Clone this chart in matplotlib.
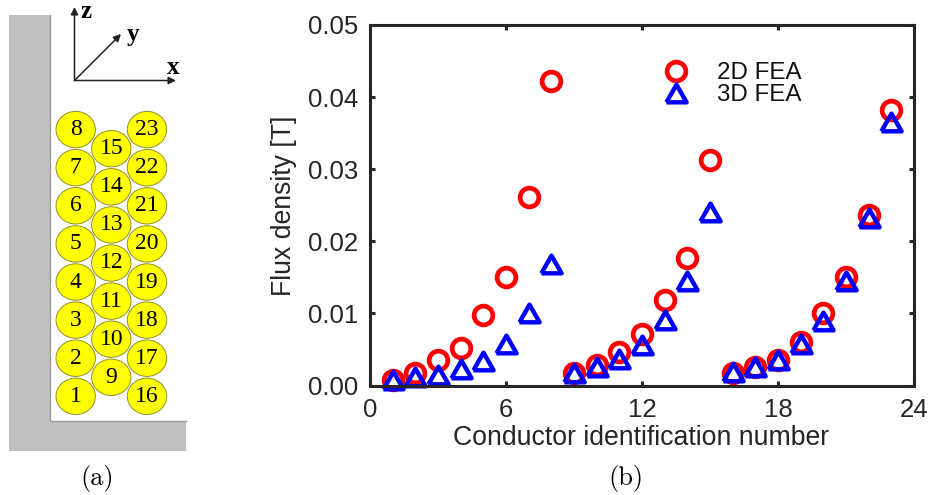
import matplotlib
matplotlib.use('Agg')
import matplotlib.pyplot as plt
from matplotlib.markers import MarkerStyle
from matplotlib.patches import Ellipse, Polygon

W, H = 932, 495
conductors = list(range(1, 24))
flux_2d = [.0008, .0018, .0035, .0052, .0098, .0150, .0262, .0422,
           .0018, .0028, .0047, .0072, .0119, .0177, .0313,
           .0018, .0025, .0035, .0060, .0100, .0150, .0237, .0382]
flux_3d = [.0008, .0012, .0014, .0023, .0034, .0057, .0101, .0168,
           .0017, .0025, .0037, .0056, .0091, .0145, .0240,
           .0019, .0025, .0035, .0057, .0090, .0145, .0233, .0366]
x_ticks = [0, 6, 12, 18, 24]
y_ticks = [0, .01, .02, .03, .04, .05]
y_labels = ['0.00', '0.01', '0.02', '0.03', '0.04', '0.05']

fig = plt.figure(figsize=(W / 100, H / 100), dpi=100)

# Left diagram drawn in pixel coordinates
d = fig.add_axes([0, 0, 1, 1])
d.set_xlim(0, W)
d.set_ylim(H, 0)
d.axis('off')
d.add_patch(Polygon([(9, 15), (50, 15), (50, 421), (186, 421), (186, 451), (9, 451)],
                    closed=True, fc='#c0c0c0', ec='none'))
d.plot([50, 50, 186], [15, 421, 421], color='#9a9a9a', lw=1)
pitch = 38.1
cols = [(75.7, 396.3, 8, 1), (111.3, 377.3, 7, 9), (147.0, 396.3, 8, 16)]
for cx, y0, n, first in cols:
    for i in range(n):
        cy = y0 - i * pitch
        d.add_patch(Ellipse((cx, cy), 39.4, 36.4, fc='#ffff00', ec='#8f8f30', lw=0.7))
        d.text(cx, cy, str(first + i), ha='center', va='center', fontsize=17,
               family='Liberation Serif', color='black')
arrow = dict(arrowstyle='-|>', color='#222222', lw=1.1, mutation_scale=11, shrinkA=0, shrinkB=0)
origin = (74.5, 80.5)
for end in [(74.5, 7), (176, 80.5), (121, 34)]:
    d.annotate('', xy=end, xytext=origin, arrowprops=arrow)
for s, x, y in [('z', 85.7, 12), ('x', 173, 68), ('y', 132.5, 34)]:
    d.text(x, y, s, ha='center', va='center', fontsize=18, fontweight='bold',
           family='Liberation Serif')
d.text(97, 478, '(a)', ha='center', va='center', fontsize=19, family='cmr10')
d.text(626, 478, '(b)', ha='center', va='center', fontsize=19, family='cmr10')

# Right chart
left, right, top, bottom = 370, 914, 25, 385.5
ax = fig.add_axes([left / W, 1 - bottom / H, (right - left) / W, (bottom - top) / H])
ax.patch.set_alpha(0)
tri = MarkerStyle([(-1, -.875), (1, -.875), (0, .875), (-1, -.875)], joinstyle='miter')
ax.plot(conductors, flux_2d, ls='none', marker='o', ms=13.5, mfc='none', mec='#ff0000',
        mew=3.4, label='2D FEA', clip_on=False)
ax.plot(conductors, flux_3d, ls='none', marker=tri, ms=14.5, mfc='none', mec='#0000ff',
        mew=3.2, label='3D FEA', clip_on=False)
ax.set_xlim(0, 24)
ax.set_ylim(0, 0.05)
ax.set_xticks(x_ticks)
ax.set_yticks(y_ticks)
ax.set_yticklabels(y_labels)
ax.tick_params(axis='both', direction='in', length=3.5, width=2.2, color='#262626',
               labelsize=18.5, labelcolor='#262626', top=True, right=True)
ax.tick_params(axis='x', pad=9)
ax.tick_params(axis='y', pad=8.5)
for t in ax.get_xticklabels() + ax.get_yticklabels():
    t.set_family('Liberation Sans')
for s in ax.spines.values():
    s.set_linewidth(2.2)
    s.set_color('#262626')
d.text(641.5, 438, 'Conductor identification number', ha='center', va='center',
       fontsize=19.2, family='Liberation Sans', color='#262626')
d.text(284, 205.5, 'Flux density [T]', ha='center', va='center', rotation=90,
       fontsize=19.2, family='Liberation Sans', color='#262626')
leg = ax.legend(loc='upper left', bbox_to_anchor=(0.5355, 0.897), frameon=False,
                prop={'family': 'Liberation Sans', 'size': 17.4}, labelspacing=0.0,
                handletextpad=1.125, handlelength=1.2, borderpad=0, borderaxespad=0)
for t in leg.get_texts():
    t.set_color('#111111')
fig.savefig('out.png', dpi=100)
